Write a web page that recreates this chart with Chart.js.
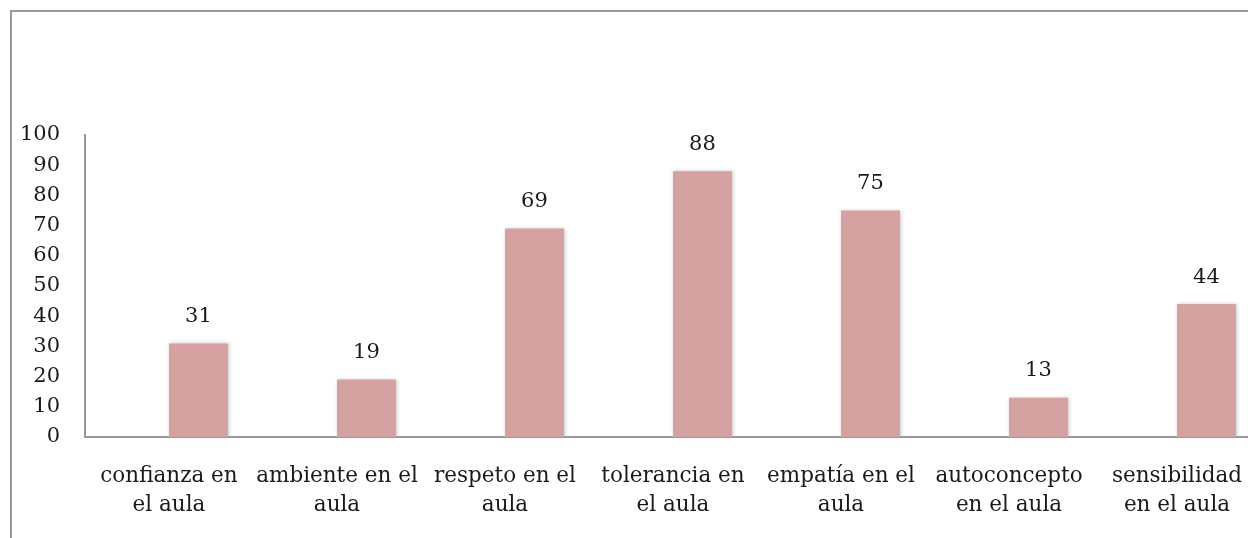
<!DOCTYPE html>
<html>
<head>
<meta charset="utf-8">
<script src="https://cdn.jsdelivr.net/npm/chart.js@4"></script>
<style>
  html, body { margin: 0; padding: 0; background: #fff; overflow: hidden; width: 1248px; height: 538px; }
  #frame { position: absolute; left: 10px; top: 10px; width: 1300px; height: 600px; border: 2px solid #9a9a9a; }
  #wrap { position: absolute; left: 0; top: 0; width: 1290px; height: 538px; }
</style>
</head>
<body>
<div id="frame"></div>
<div id="wrap"><canvas id="aulaChart"></canvas></div>
<script>
const ctx = document.getElementById("aulaChart");

// Categorías (eje X) y valores
const categorias = [
  ["confianza en", "el aula"],
  ["ambiente en el", "aula"],
  ["respeto en el", "aula"],
  ["tolerancia en", "el aula"],
  ["empatía en el", "aula"],
  ["autoconcepto", "en el aula"],
  ["sensibilidad", "en el aula"],
];
const valores = [31, 19, 69, 88, 75, 13, 44];
// serie vacía del original (ocupa la mitad izquierda de cada grupo)
const serieVacia = [null, null, null, null, null, null, null];
const ticksY = [0, 10, 20, 30, 40, 50, 60, 70, 80, 90, 100];

const fuente = "'DejaVu Serif', 'Liberation Serif', serif";

// sombra suave de las barras + etiquetas de valor
const barExtras = {
  id: "barExtras",
  beforeDatasetsDraw(chart) {
    const c = chart.ctx;
    c.save();
    c.shadowColor = "rgba(0,0,0,0.22)";
    c.shadowBlur = 4;
    c.shadowOffsetX = 1;
    c.shadowOffsetY = 0;
  },
  afterDatasetsDraw(chart) {
    const c = chart.ctx;
    c.restore();
    c.save();
    c.font = "21px " + fuente;
    c.fillStyle = "#1a1a1a";
    c.textAlign = "center";
    c.textBaseline = "middle";
    const meta = chart.getDatasetMeta(1);
    meta.data.forEach((bar, i) => {
      c.fillText(String(valores[i]), bar.x, bar.y - 27);
    });
    c.restore();
  },
};

const config = {
  type: "bar",
  data: {
    labels: categorias,
    datasets: [
      {
        label: "vacía",
        data: serieVacia,
        backgroundColor: "rgba(0,0,0,0)",
      },
      {
        label: "Serie 1",
        data: valores,
        backgroundColor: "rgb(213,161,161)",
        borderWidth: 0,
      },
    ],
  },
  options: {
    responsive: false,
    animation: false,
    layout: { padding: { left: 0, right: 29, top: 135, bottom: 0 } },
    datasets: {
      bar: { categoryPercentage: 0.702, barPercentage: 1.0 },
    },
    scales: {
      x: {
        afterFit(scale) { scale.height = 101; },
        grid: { display: false, drawTicks: false },
        border: { display: true, color: "#999", width: 2 },
        ticks: {
          color: "#1a1a1a",
          font: { family: fuente, size: 21.5, lineHeight: 1.35 },
          padding: 25,
          maxRotation: 0,
          autoSkip: false,
        },
      },
      y: {
        min: 0,
        max: 100,
        afterFit(scale) { scale.width = 85; },
        afterBuildTicks(scale) { scale.ticks = ticksY.map(v => ({ value: v })); },
        grid: { display: false, drawTicks: false },
        border: { display: true, color: "#999", width: 2 },
        ticks: {
          color: "#1a1a1a",
          font: { family: fuente, size: 21 },
          padding: 25,
        },
      },
    },
    plugins: {
      legend: { display: false },
      tooltip: { enabled: false },
    },
  },
  plugins: [barExtras],
};

ctx.width = 1290;
ctx.height = 538;
new Chart(ctx, config);
</script>
</body>
</html>
